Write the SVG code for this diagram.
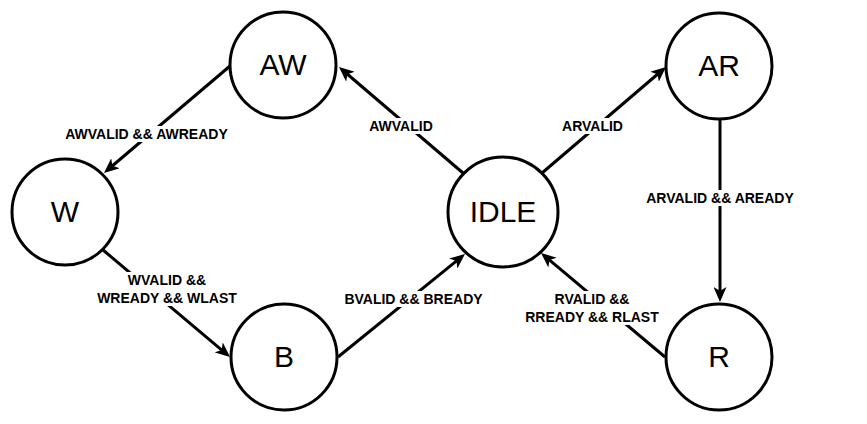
<svg xmlns="http://www.w3.org/2000/svg" width="867" height="424" viewBox="0 0 867 424">
<style>
.node{fill:#fff;stroke:#000;stroke-width:3}
.nt{font-family:"Liberation Sans",Arial,sans-serif;font-size:30px;fill:#000;text-anchor:middle}
.edge{stroke:#000;stroke-width:3;fill:none}
.lbl{font-family:"Liberation Sans",Arial,sans-serif;font-size:14px;font-weight:bold;fill:#000;text-anchor:middle}
.bg{fill:#fff}
</style>
<defs>
<marker id="arr" viewBox="0 0 15 13" markerWidth="15" markerHeight="13" markerUnits="userSpaceOnUse" refX="5" refY="6.5" orient="auto">
<path d="M0,0 L15,6.5 L0,13 L4,6.5 Z" fill="#000"/>
</marker>
</defs>
<rect width="867" height="424" fill="#fff"/>
<g id="connectors">
<line class="edge" x1="230" y1="66" x2="111.6" y2="166.5" marker-end="url(#arr)"/>
<line class="edge" x1="103" y1="250" x2="222.4" y2="350.6" marker-end="url(#arr)"/>
<line class="edge" x1="338" y1="357" x2="457.2" y2="260.3" marker-end="url(#arr)"/>
<line class="edge" x1="463" y1="173" x2="346.6" y2="73.5" marker-end="url(#arr)"/>
<line class="edge" x1="542" y1="173" x2="658.4" y2="73.5" marker-end="url(#arr)"/>
<line class="edge" x1="720" y1="120" x2="720" y2="292" marker-end="url(#arr)"/>
<line class="edge" x1="665" y1="357" x2="548.7" y2="259.4" marker-end="url(#arr)"/>
<g id="labels">
<rect class="bg" x="61" y="126" width="171" height="16"/>
<text class="lbl" x="146.5" y="139">AWVALID &amp;&amp; AWREADY</text>
<rect class="bg" x="367" y="118" width="68" height="16"/>
<text class="lbl" x="401" y="131">AWVALID</text>
<rect class="bg" x="560" y="118" width="65" height="16"/>
<text class="lbl" x="592.5" y="131">ARVALID</text>
<rect class="bg" x="642" y="190" width="156" height="16"/>
<text class="lbl" x="720" y="203">ARVALID &amp;&amp; AREADY</text>
<rect class="bg" x="95" y="272" width="145" height="34"/>
<text class="lbl" x="167" y="285">WVALID &amp;&amp;</text>
<text class="lbl" x="167" y="303">WREADY &amp;&amp; WLAST</text>
<rect class="bg" x="341" y="291" width="145" height="16"/>
<text class="lbl" x="413.5" y="304">BVALID &amp;&amp; BREADY</text>
<rect class="bg" x="523" y="291" width="141" height="34"/>
<text class="lbl" x="592" y="304">RVALID &amp;&amp;</text>
<text class="lbl" x="592" y="322">RREADY &amp;&amp; RLAST</text>
</g>
</g>
<g id="AW"><circle class="node" cx="283" cy="65" r="53"/><text class="nt" x="283" y="75">AW</text></g>
<g id="W"><circle class="node" cx="65" cy="212" r="53"/><text class="nt" x="65" y="222">W</text></g>
<g id="B"><circle class="node" cx="284" cy="357" r="53"/><text class="nt" x="284" y="367">B</text></g>
<g id="IDLE"><circle class="node" cx="503" cy="212" r="55"/><text class="nt" x="503" y="222">IDLE</text></g>
<g id="AR"><circle class="node" cx="719" cy="66" r="53"/><text class="nt" x="719" y="76">AR</text></g>
<g id="R"><circle class="node" cx="719" cy="357" r="53"/><text class="nt" x="719" y="367">R</text></g>
</svg>
